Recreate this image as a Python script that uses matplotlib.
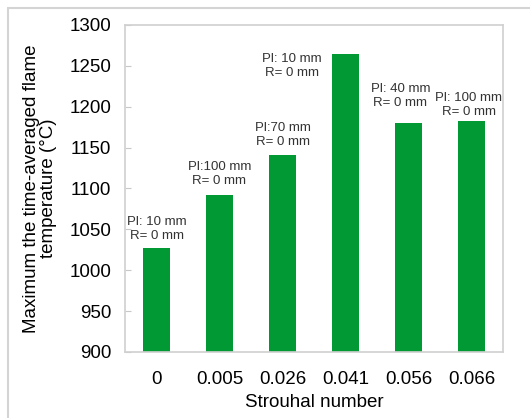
import matplotlib.pyplot as plt
from matplotlib.patches import Rectangle

plt.rcParams['font.family'] = ['Liberation Sans', 'DejaVu Sans']

# data
strouhal = ['0', '0.005', '0.026', '0.041', '0.056', '0.066']
temperature = [1027, 1092, 1141, 1264, 1180, 1182]
notes = ['Pl: 10 mm\nR= 0 mm', 'Pl:100 mm\nR= 0 mm', 'Pl:70 mm\nR= 0 mm',
         'Pl: 10 mm\nR= 0 mm', 'Pl: 40 mm\nR= 0 mm', 'Pl: 100 mm\nR= 0 mm']
yticks = [900, 950, 1000, 1050, 1100, 1150, 1200, 1250, 1300]

fig = plt.figure(figsize=(5.3, 4.18), dpi=100)
ax = fig.add_axes([125 / 530, 1 - 352 / 418, 378 / 530, 327 / 418])

# outer gray frame running off the right and bottom edges
fig.patches.append(Rectangle((8 / 530, -0.1), 1.2, 1 - 8 / 418 + 0.1,
                             transform=fig.transFigure, fill=False,
                             edgecolor='#d4d4d4', linewidth=1.5))

x = list(range(len(strouhal)))
ax.bar(x, temperature, width=0.44, color='#009933')

# annotation offsets in data units (label 4 sits left of its bar)
dx = [0, 0, 0, -0.85, -0.13, -0.04]
dy = [7, 10, 8, -30, 17, 4]
for xi, t, n, ox, oy in zip(x, temperature, notes, dx, dy):
    ax.text(xi + ox, t + oy, n, ha='center', va='bottom', fontsize=9.5,
            color='#333333', linespacing=1.25)

ax.set_ylim(900, 1300)
ax.set_xlim(-0.5, len(strouhal) - 0.5)
ax.set_yticks(yticks)
ax.set_xticks(x)
ax.set_xticklabels(strouhal)
ax.tick_params(axis='y', direction='in', length=4, color='#c8c8c8',
               labelsize=13.5, pad=10)
ax.tick_params(axis='x', length=0, labelsize=13.5, pad=14)
for s in ax.spines.values():
    s.set_color('#d0d0d0')
    s.set_linewidth(1.2)

ax.set_xlabel('Strouhal number', fontsize=13.5, labelpad=4)
ax.set_ylabel('Maximum the time-averaged flame\ntemperature (\u00b0C)',
              fontsize=13.5, labelpad=9, linespacing=0.95)

fig.savefig('out.png', dpi=100)
